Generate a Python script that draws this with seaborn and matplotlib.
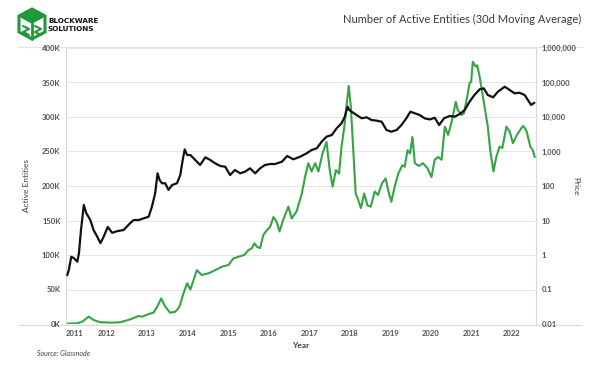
import numpy as np
import pandas as pd
import seaborn as sns
import matplotlib.pyplot as plt
from matplotlib.patches import Polygon
from matplotlib.lines import Line2D

# BTC price (right axis, log)
price_year = [2011.03, 2011.07, 2011.13, 2011.19, 2011.28, 2011.32, 2011.37, 2011.44, 2011.50, 2011.60,
              2011.68, 2011.77, 2011.85, 2011.93, 2012.03, 2012.14, 2012.26, 2012.42, 2012.59, 2012.67,
              2012.79, 2012.96, 2013.04, 2013.12, 2013.20, 2013.26, 2013.31, 2013.37, 2013.45, 2013.53,
              2013.62, 2013.74, 2013.82, 2013.88, 2013.93, 2013.99, 2014.07, 2014.19, 2014.31, 2014.44,
              2014.56, 2014.68, 2014.81, 2014.93, 2015.05, 2015.17, 2015.30, 2015.42, 2015.54, 2015.67,
              2015.79, 2015.91, 2016.04, 2016.16, 2016.33, 2016.46, 2016.61, 2016.78, 2016.94, 2017.06,
              2017.19, 2017.31, 2017.43, 2017.56, 2017.68, 2017.80, 2017.88, 2017.95, 2017.99, 2018.05,
              2018.17, 2018.30, 2018.42, 2018.54, 2018.67, 2018.79, 2018.91, 2019.03, 2019.16, 2019.28,
              2019.40, 2019.50, 2019.61, 2019.73, 2019.85, 2019.98, 2020.10, 2020.21, 2020.33, 2020.47,
              2020.59, 2020.72, 2020.84, 2020.96, 2021.08, 2021.21, 2021.31, 2021.41, 2021.54, 2021.66,
              2021.83, 2021.95, 2022.07, 2022.19, 2022.32, 2022.40, 2022.48, 2022.56]
price_usd = [0.26, 0.37, 0.89, 0.82, 0.64, 1.14, 5.3, 28, 16.5, 10.3,
             5.3, 3.4, 2.2, 3.4, 6.5, 4.4, 4.9, 5.3, 8.5, 10.3,
             10.3, 12, 12.9, 25, 61, 233, 149, 120, 120, 77,
             107, 120, 208, 567, 1150, 790, 790, 567, 406, 679,
             567, 455, 380, 362, 208, 291, 233, 260, 326, 233,
             326, 406, 434, 434, 506, 741, 594, 707, 887, 1105,
             1240, 1923, 2685, 3008, 4700, 6570, 10200, 19900, 15950, 14250,
             11430, 9170, 9800, 8190, 7810, 7310, 4200, 3750, 4200, 5860,
             9170, 14250, 12800, 11430, 9170, 8500, 9500, 5860, 9170, 10700,
             10200, 12200, 15950, 27700, 43400, 63500, 67900, 43400, 37200, 54100,
             75500, 60700, 48600, 50600, 43400, 31100, 22300, 25900]

# active entities, 30d MA, in thousands (left axis)
entity_year = [2011.03, 2011.28, 2011.40, 2011.56, 2011.68, 2011.85, 2012.10, 2012.34, 2012.59, 2012.79,
               2012.88, 2013.04, 2013.16, 2013.25, 2013.35, 2013.45, 2013.57, 2013.70, 2013.80, 2013.90,
               2013.99, 2014.07, 2014.15, 2014.23, 2014.35, 2014.52, 2014.68, 2014.85, 2015.01, 2015.13,
               2015.26, 2015.40, 2015.50, 2015.59, 2015.65, 2015.71, 2015.79, 2015.87, 2015.96, 2016.04,
               2016.12, 2016.20, 2016.27, 2016.36, 2016.49, 2016.57, 2016.69, 2016.82, 2016.90, 2016.98,
               2017.06, 2017.15, 2017.23, 2017.33, 2017.43, 2017.51, 2017.58, 2017.66, 2017.74, 2017.80,
               2017.87, 2017.93, 2017.98, 2018.03, 2018.09, 2018.15, 2018.21, 2018.28, 2018.36, 2018.44,
               2018.52, 2018.62, 2018.70, 2018.80, 2018.89, 2018.95, 2019.03, 2019.12, 2019.20, 2019.30,
               2019.36, 2019.43, 2019.49, 2019.55, 2019.61, 2019.71, 2019.81, 2019.92, 2020.02, 2020.10,
               2020.18, 2020.27, 2020.35, 2020.43, 2020.51, 2020.62, 2020.67, 2020.76, 2020.82, 2020.90,
               2020.96, 2021.00, 2021.04, 2021.11, 2021.15, 2021.21, 2021.25, 2021.33, 2021.41, 2021.47,
               2021.55, 2021.62, 2021.70, 2021.77, 2021.87, 2021.95, 2022.03, 2022.13, 2022.24, 2022.29,
               2022.37, 2022.46, 2022.52, 2022.57]
entities_k = [0.5, 1, 3.3, 10.6, 5.8, 2.5, 2, 2.5, 6.8, 11.6,
              10.6, 14.5, 16.4, 25, 37, 25, 16.4, 17.8, 25, 44.5,
              59, 50, 64, 78, 71, 73.5, 78, 83, 85.5, 95,
              97.5, 100, 107, 110, 117, 112, 110, 129, 136, 141,
              155, 148, 134, 151, 170, 153, 163, 189, 213, 233,
              221, 233, 221, 247, 264, 223, 199, 223, 218, 257,
              286, 320, 345, 315, 252, 189, 180, 168, 189, 172,
              170, 192, 187, 204, 211, 194, 177, 201, 218, 230,
              228, 252, 247, 271, 233, 229, 233, 226, 213, 238,
              242, 238, 286, 274, 291, 322, 310, 303, 305, 329,
              349, 351, 380, 373, 375, 358, 344, 315, 286, 252,
              221, 242, 257, 255, 286, 279, 262, 274, 284, 287,
              279, 257, 252, 242]

years = list(range(2011, 2023))
price_ticks = [0.01, 0.1, 1, 10, 100, 1000, 10000, 100000, 1000000]
price_labels = ['0.01', '0.1', '1', '10', '100', '1,000', '10,000', '100,000', '1,000,000']
entity_ticks = list(range(0, 401, 50))

GREEN = '#35a544'
GRID = '#e6e6e6'
TXT = '#505050'

sns.set_style('white')
plt.rcParams['font.family'] = ['Lato', 'DejaVu Sans']

price = pd.DataFrame({'year': price_year, 'price': price_usd})
ent = pd.DataFrame({'year': entity_year, 'entities': entities_k})

fig = plt.figure(figsize=(6, 3.74), dpi=100)
ax = fig.add_axes([66/600, 1 - 324/374, 470/600, 276/374])
ax2 = ax.twinx()

sns.lineplot(data=ent, x='year', y='entities', ax=ax, color=GREEN, lw=1.5, sort=False)
sns.lineplot(data=price, x='year', y='price', ax=ax2, color='#111111', lw=1.6, sort=False)

ax.set_xlim(2011.0, 2022.6)
ax.set_ylim(0, 400)
ax.set_yticks(entity_ticks)
ax.set_yticklabels([f'{v}K' for v in entity_ticks])
ax.set_xticks(years)
ax.set_xticklabels([str(y) for y in years])
ax.get_xticklabels()[0].set_ha('left')
ax.grid(axis='y', color=GRID, lw=0.7)
ax.grid(axis='x', visible=False)

ax2.set_yscale('log')
ax2.set_ylim(0.01, 1e6)
ax2.set_yticks(price_ticks)
ax2.set_yticklabels(price_labels)
ax2.minorticks_off()

for a in (ax, ax2):
    a.tick_params(axis='both', length=0, labelsize=5.5, labelcolor=TXT, pad=4)
    for s in a.spines.values():
        s.set_visible(False)
    for lab in a.get_xticklabels() + a.get_yticklabels():
        lab.set_fontweight('bold')
ax.spines['left'].set_visible(True)
ax.spines['left'].set_color('#d9d9d9')
ax2.spines['right'].set_visible(True)
ax2.spines['right'].set_color('#d9d9d9')

ax.set_xlabel('Year', fontsize=6, fontweight='bold', color='#404040', labelpad=4)
ax.set_ylabel('Active Entities', fontsize=6, color='#404040', va='center')
ax.yaxis.set_label_coords(-0.083, 0.5)
ax2.set_ylabel('Price', fontsize=6, color='#404040', rotation=270, va='center')
ax2.yaxis.set_label_coords(1.085, 0.5)

# overlay in pixel coordinates for header, frame lines and footer
ov = fig.add_axes([0, 0, 1, 1], zorder=-1)
ov.set_xlim(0, 600)
ov.set_ylim(374, 0)
ov.axis('off')
ov.add_line(Line2D([18, 582], [47, 47], color='#e3e3e3', lw=0.8))
ov.add_line(Line2D([18, 582], [325, 325], color='#d9d9d9', lw=0.8))

# logo
hexagon = [(32, 9), (45, 16), (45, 32), (32, 39), (19, 32), (19, 16)]
ov.add_patch(Polygon(hexagon, closed=True, fc='none', ec='#1f9a3a', lw=2.2))
ov.add_patch(Polygon([(32, 9), (45, 16), (32, 23), (19, 16)], closed=True, fc='#1f9a3a', ec='#1f9a3a', lw=1))
ov.add_line(Line2D([32, 32], [23, 39], color='#1f9a3a', lw=2))
ov.add_line(Line2D([23, 29, 23, 29], [26, 29, 32, 35], color='#1f9a3a', lw=1.5))
ov.add_line(Line2D([35, 41, 35, 41], [26, 29, 32, 35], color='#1f9a3a', lw=1.5))
ov.text(48, 21, 'BLOCKWARE', fontsize=5.2, fontweight='heavy', color='#111111',
        family=['Liberation Sans Narrow', 'DejaVu Sans'], va='center')
ov.text(48, 29, 'SOLUTIONS', fontsize=5.2, fontweight='heavy', color='#111111',
        family=['Liberation Sans Narrow', 'DejaVu Sans'], va='center')

ov.text(343, 19, 'Number of Active Entities (30d Moving Average)', fontsize=8.0,
        color='#3a3a3a', ha='left', va='center')
ov.text(37, 354, 'Source: Glassnode', fontsize=5, style='italic', color='#444444',
        ha='left', va='center')

fig.savefig('out.png', dpi=100)
